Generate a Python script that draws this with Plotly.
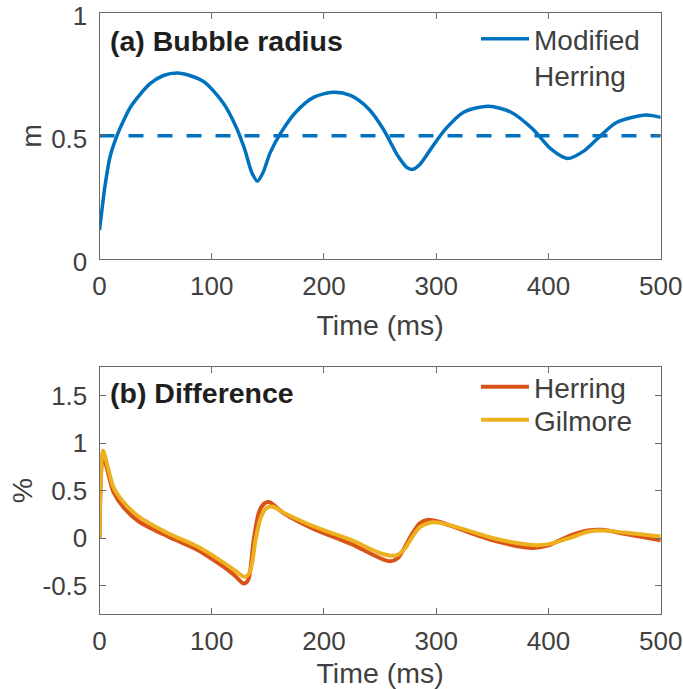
import plotly.graph_objects as go

# ---------------- data ----------------
# (a) bubble radius, Modified Herring
t_radius = [0, 2.5, 5, 9.4, 15.5, 22, 28.5, 44.8, 57, 69.1, 81, 93.5, 109.8, 121.2, 129.3,
            135.8, 140.7, 145.6, 152.1, 161.8, 174.8, 191.1, 208, 223.6, 239.9, 252.9, 265.9,
            274, 278.9, 285.4, 295.1, 308.2, 324.4, 346.5, 366.7, 386.2, 402.4, 417, 431.7,
            444.7, 461, 487, 500]
radius = [0.118, 0.212, 0.3, 0.415, 0.5, 0.567, 0.623, 0.711, 0.745, 0.755, 0.744, 0.718,
          0.636, 0.541, 0.446, 0.35, 0.316, 0.35, 0.432, 0.514, 0.596, 0.657, 0.677, 0.664,
          0.609, 0.527, 0.418, 0.371, 0.364, 0.384, 0.446, 0.527, 0.596, 0.62, 0.596, 0.527,
          0.446, 0.408, 0.439, 0.493, 0.555, 0.585, 0.575]
t_ref = [0, 500]
r_ref = [0.5, 0.5]

# (b) difference (%)
t_herring = [0, 3.1, 7.4, 12.3, 22, 35, 61, 87, 106.5, 119.6, 128.7, 132.6, 137.4, 142.3,
             147.2, 151.4, 165, 191.1, 223.6, 249.6, 258.8, 265.9, 272.4, 278.9, 285.4, 291.9,
             301.6, 321.2, 353.7, 386.2, 399.2, 418.7, 435, 448, 467.5, 500]
herring = [0, 0.874, 0.70, 0.49, 0.315, 0.175, 0.017, -0.122, -0.27, -0.385, -0.479, -0.437,
           -0.017, 0.28, 0.367, 0.378, 0.255, 0.094, -0.059, -0.21, -0.245, -0.21, -0.087,
           0.052, 0.157, 0.192, 0.175, 0.094, -0.035, -0.105, -0.08, 0.024, 0.08, 0.087,
           0.045, -0.024]
t_gilmore = [0, 3.1, 7.4, 12.3, 22, 35, 61, 87, 106.5, 119.6, 129.3, 134.2, 139.1, 144,
             148.8, 153.7, 165, 191.1, 223.6, 249.6, 259.4, 265.9, 272.4, 278.9, 285.4, 295.1,
             301.6, 321.2, 353.7, 386.2, 399.2, 418.7, 435, 448, 467.5, 500]
gilmore = [0, 0.92, 0.75, 0.54, 0.37, 0.227, 0.052, -0.087, -0.227, -0.332, -0.409, -0.35,
           -0.017, 0.227, 0.315, 0.332, 0.262, 0.122, -0.017, -0.157, -0.185, -0.175, -0.105,
           0.017, 0.115, 0.164, 0.164, 0.105, -0.01, -0.073, -0.066, 0.0, 0.066, 0.08, 0.059,
           0.017]

x_ticks = [0, 100, 200, 300, 400, 500]
y1_ticks = [0, 0.5, 1]
y1_text = ["0", "0.5", "1"]
y2_ticks = [-0.5, 0, 0.5, 1, 1.5]
y2_text = ["-0.5", "0", "0.5", "1", "1.5"]

# ---------------- style ----------------
FONT = "Liberation Sans, Arial, Helvetica, sans-serif"
TXT = "#404040"
AX = "#6a6a6a"
BLUE = "#0072BD"
RED = "#D95319"
YEL = "#EDB120"
W, H = 683, 689

fig = go.Figure()
fig.add_trace(go.Scatter(x=t_radius, y=radius, mode="lines", name="Modified<br>Herring",
                         line=dict(color=BLUE, width=3.5, shape="spline", smoothing=0.8),
                         xaxis="x", yaxis="y", legend="legend"))
fig.add_trace(go.Scatter(x=t_ref, y=r_ref, mode="lines", showlegend=False,
                         line=dict(color=BLUE, width=3.5, dash="15px,14px"),
                         xaxis="x", yaxis="y"))
fig.add_trace(go.Scatter(x=t_herring, y=herring, mode="lines", name="Herring",
                         line=dict(color=RED, width=4, shape="spline", smoothing=0.8),
                         xaxis="x2", yaxis="y2", legend="legend2"))
fig.add_trace(go.Scatter(x=t_gilmore, y=gilmore, mode="lines", name="Gilmore",
                         line=dict(color=YEL, width=4, shape="spline", smoothing=0.8),
                         xaxis="x2", yaxis="y2", legend="legend3"))

xdom = [99.5 / W, 660.7 / W]
axis_common = dict(showline=True, linecolor=AX, linewidth=1, mirror="ticks", ticks="inside",
                   ticklen=6, tickcolor=AX, tickwidth=1, showgrid=False, zeroline=False,
                   automargin=False, ticklabeloverflow="allow",
                   tickfont=dict(family=FONT, size=26, color=TXT))
title_font = dict(family=FONT, size=28.5, color=TXT)
legend_common = dict(xanchor="left", yanchor="top", bgcolor="rgba(0,0,0,0)",
                     font=dict(family=FONT, size=28, color=TXT), valign="top",
                     itemwidth=48, tracegroupgap=0)

fig.update_layout(
    width=W, height=H, margin=dict(l=0, r=0, t=0, b=0, autoexpand=False),
    paper_bgcolor="white", plot_bgcolor="white",
    font=dict(family=FONT, color=TXT),
    xaxis=dict(domain=xdom, range=[0, 500], anchor="y", tickvals=x_ticks, ticklabelstandoff=4,
               title=dict(text="Time (ms)", font=title_font, standoff=14), **axis_common),
    yaxis=dict(domain=[1 - 259 / H, 1 - 12.7 / H], range=[0, 1], anchor="x",
               tickvals=y1_ticks, ticktext=y1_text, ticklabelstandoff=6, ticklabelshift=3,
               title=dict(text="m", font=title_font, standoff=1), **axis_common),
    xaxis2=dict(domain=xdom, range=[0, 500], anchor="y2", tickvals=x_ticks,
                ticklabelstandoff=4,
                title=dict(text="Time (ms)", font=title_font, standoff=14), **axis_common),
    yaxis2=dict(domain=[1 - 614 / H, 1 - 367.3 / H], range=[-0.8, 1.8], anchor="x2",
                tickvals=y2_ticks, ticktext=y2_text, ticklabelstandoff=6,
                title=dict(text="%", font=title_font, standoff=1), **axis_common),
    legend=dict(x=476 / W, y=1 - 14 / H, **legend_common),
    legend2=dict(x=476 / W, y=1 - 362 / H, **legend_common),
    legend3=dict(x=476 / W, y=1 - 395 / H, **legend_common),
    annotations=[
        dict(text="<b>(a) Bubble radius</b>", x=108 / W, y=1 - 41 / H, xref="paper",
             yref="paper", xanchor="left", yanchor="middle", showarrow=False,
             font=dict(family=FONT, size=28.5, color="#1f1f1f")),
        dict(text="<b>(b) Difference</b>", x=108 / W, y=1 - 393 / H, xref="paper",
             yref="paper", xanchor="left", yanchor="middle", showarrow=False,
             font=dict(family=FONT, size=28.5, color="#1f1f1f")),
    ],
)

fig.write_html("out.html")
